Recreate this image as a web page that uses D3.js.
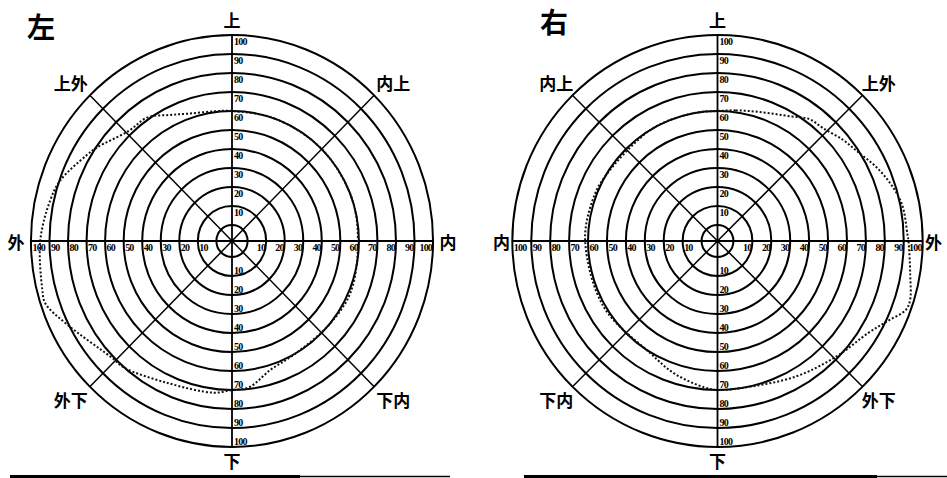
<!DOCTYPE html>
<html>
<head>
<meta charset="utf-8">
<script src="https://cdn.jsdelivr.net/npm/d3@7"></script>
<style>
  html,body{margin:0;padding:0;background:#fff;}
  svg{display:block;}
</style>
</head>
<body>
<svg id="chart" width="947" height="478"></svg>
<script>
// ---------- data ----------
const titles = ["左", "右"];
const ringValues = [0, 10, 20, 30, 40, 50, 60, 70, 80, 90, 100];
const tickLabels = [10, 20, 30, 40, 50, 60, 70, 80, 90, 100];
const directionAngles = [0, 45, 90, 135, 180, 225, 270, 315];
const leftDirLabels  = ["上", "内上", "内", "下内", "下", "外下", "外", "上外"];
const rightDirLabels = ["上", "上外", "外", "外下", "下", "下内", "内", "内上"];

// visual field boundary: angle (deg, clockwise from 上) and extent value
const leftBoundaryAngles = [0, 20, 45, 70, 90, 113, 130, 150, 163, 173, 180, 187, 205, 221, 227, 244, 252, 256, 270, 282, 289, 300, 304, 316, 325, 333, 341, 352];
const leftBoundaryValues = [60, 60, 60, 60, 59.5, 61, 60, 60, 62.5, 69, 70, 72, 74, 80, 81, 91, 97.5, 97, 95, 92, 89.5, 82, 79.5, 72, 71, 66, 62.5, 60.5];
const rightBoundaryAngles = [0, 8, 18, 31, 37, 43, 51, 58, 65, 72, 79, 88, 90, 100, 107, 110, 115, 121, 134, 150, 170, 180, 185, 198, 211, 240, 270, 288, 300, 330, 350];
const rightBoundaryValues = [60, 61, 63, 68, 72, 73, 76.5, 79.5, 84, 88, 91, 92, 92.5, 95, 98, 97.5, 91, 85, 79, 74, 70, 70, 69, 65, 60.5, 61, 61.5, 61, 60, 60, 60];

// ---------- drawing ----------
const svg = d3.select("#chart");
const R0 = 16, R1 = 206;
const r = d3.scaleLinear().domain([0, 100]).range([R0, R1]);

const charts = [
  {title: titles[0], cx: 232, cy: 241, kx: 0.976, dirs: leftDirLabels,
   bAng: leftBoundaryAngles, bVal: leftBoundaryValues, titlePos: [41, 26],
   baseline: [[10, 300, 3.2], [300, 450, 1.6]]},
  {title: titles[1], cx: 717.5, cy: 241, kx: 0.996, dirs: rightDirLabels,
   bAng: rightBoundaryAngles, bVal: rightBoundaryValues, titlePos: [554, 21],
   baseline: [[524, 877, 3.2], [877, 947, 1.6]]}
];

const cjk = "'Noto Sans CJK SC','Noto Sans CJK JP',sans-serif";
const numFont = "'Liberation Serif','DejaVu Serif',serif";

charts.forEach(c => {
  const g = svg.append("g");
  const px = (ang, v) => c.cx + Math.sin(ang * Math.PI / 180) * r(v) * c.kx;
  const py = (ang, v) => c.cy - Math.cos(ang * Math.PI / 180) * r(v);

  // rings
  g.selectAll("ellipse.ring").data(ringValues).join("ellipse")
    .attr("class", "ring")
    .attr("cx", c.cx).attr("cy", c.cy)
    .attr("rx", d => r(d) * c.kx).attr("ry", d => r(d))
    .attr("fill", "none").attr("stroke", "#000").attr("stroke-width", 2);

  // axes (horizontal & vertical) and diagonals
  g.selectAll("line.spoke").data(directionAngles).join("line")
    .attr("class", "spoke")
    .attr("x1", c.cx).attr("y1", c.cy)
    .attr("x2", d => px(d, 100)).attr("y2", d => py(d, 100))
    .attr("stroke", "#000")
    .attr("stroke-width", d => d % 90 === 0 ? 1.8 : 1.5);

  // tick labels on horizontal axis
  const tg = g.append("g")
    .attr("font-family", numFont).attr("font-weight", "bold")
    .attr("font-size", 10).attr("fill", "#000");
  tg.selectAll("text.hl").data(tickLabels).join("text")
    .attr("class", "hl")
    .attr("x", d => c.cx - r(d) * c.kx + 1.5)
    .attr("y", c.cy + 3)
    .attr("dominant-baseline", "hanging")
    .attr("text-anchor", "start")
    .attr("letter-spacing", -0.8)
    .text(d => d);
  tg.selectAll("text.hr").data(tickLabels).join("text")
    .attr("class", "hr")
    .attr("x", d => c.cx + r(d) * c.kx - 1)
    .attr("y", c.cy + 3)
    .attr("dominant-baseline", "hanging")
    .attr("text-anchor", "end")
    .attr("letter-spacing", -0.8)
    .text(d => d);
  // tick labels on vertical axis
  tg.selectAll("text.vu").data(tickLabels).join("text")
    .attr("class", "vu")
    .attr("x", c.cx + 2)
    .attr("y", d => c.cy - r(d) + 3)
    .attr("dominant-baseline", "hanging")
    .attr("letter-spacing", -0.8)
    .text(d => d);
  tg.selectAll("text.vd").data(tickLabels).join("text")
    .attr("class", "vd")
    .attr("x", c.cx + 2)
    .attr("y", d => c.cy + r(d) - 2)
    .attr("letter-spacing", -0.8)
    .text(d => d);

  // boundary (dotted)
  const pts = c.bAng.map((a, i) => [px(a, c.bVal[i]), py(a, c.bVal[i])]);
  g.append("path")
    .attr("d", d3.line().curve(d3.curveCatmullRomClosed.alpha(0.5))(pts))
    .attr("fill", "none").attr("stroke", "#111")
    .attr("stroke-width", 2).attr("stroke-dasharray", "2,2");

  // direction labels
  g.selectAll("text.dir").data(directionAngles).join("text")
    .attr("class", "dir")
    .attr("x", d => c.cx + Math.sin(d * Math.PI / 180) * (d % 90 === 0 ? 216 : 228))
    .attr("y", d => c.cy - Math.cos(d * Math.PI / 180) * (d === 0 ? 222 : d % 90 === 0 ? 219 : 224))
    .attr("text-anchor", "middle").attr("dominant-baseline", "central")
    .attr("font-family", cjk).attr("font-size", 17).attr("font-weight", 600)
    .attr("fill", "#000")
    .text((d, i) => c.dirs[i]);

  // title
  g.append("text")
    .attr("x", c.titlePos[0]).attr("y", c.titlePos[1])
    .attr("text-anchor", "middle").attr("dominant-baseline", "central")
    .attr("font-family", cjk).attr("font-size", 28).attr("font-weight", "bold")
    .text(c.title);

  // baseline rule under the chart
  g.selectAll("line.base").data(c.baseline).join("line")
    .attr("class", "base")
    .attr("x1", d => d[0]).attr("x2", d => d[1])
    .attr("y1", 476.5).attr("y2", 476.5)
    .attr("stroke", "#000").attr("stroke-width", d => d[2]);
});
</script>
</body>
</html>
